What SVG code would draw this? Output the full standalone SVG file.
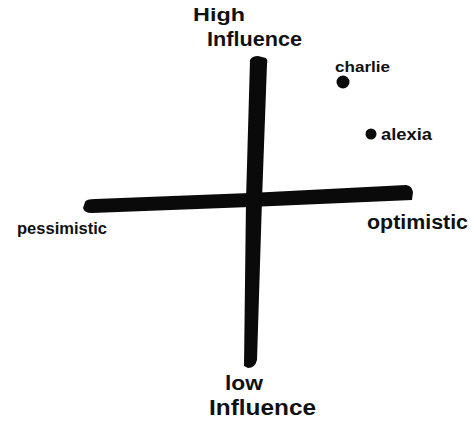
<svg xmlns="http://www.w3.org/2000/svg" width="475" height="421" viewBox="0 0 475 421">
<style>
.t{font-family:"Liberation Sans",Arial,sans-serif;fill:#111;font-weight:bold}
.ax{fill:#0a0a0a}
</style>
<rect width="475" height="421" fill="#fff"/>
<g id="connectors">
<path class="ax" d="M250,60 Q252,56 258,56 L266,58 Q268,60 267,64 L262,200 L257,360 Q255,368 248,368 L244,366 L246,200 Z"/>
<path class="ax" d="M85,202 Q86,199 95,199 L250,193 L406,185 Q412,186 413,192 L412,200 L250,207 L92,213 Q84,213 83,208 Z"/>
</g>
<g id="high-influence">
<text class="t" x="193" y="21" font-size="19" textLength="52" lengthAdjust="spacingAndGlyphs">High</text>
<text class="t" x="207" y="46" font-size="21" textLength="95" lengthAdjust="spacingAndGlyphs">Influence</text>
</g>
<g id="low-influence">
<text class="t" x="225" y="390" font-size="20" textLength="38" lengthAdjust="spacingAndGlyphs">low</text>
<text class="t" x="209" y="415" font-size="22" textLength="107" lengthAdjust="spacingAndGlyphs">Influence</text>
</g>
<g id="pessimistic">
<text class="t" x="17" y="234" font-size="17" textLength="90" lengthAdjust="spacingAndGlyphs">pessimistic</text>
</g>
<g id="optimistic">
<text class="t" x="367" y="229" font-size="20" textLength="101" lengthAdjust="spacingAndGlyphs">optimistic</text>
</g>
<g id="charlie">
<circle cx="343" cy="82" r="6.5" fill="#0a0a0a"/>
<text class="t" x="335" y="72" font-size="15" textLength="55" lengthAdjust="spacingAndGlyphs">charlie</text>
</g>
<g id="alexia">
<circle cx="371" cy="134" r="5.5" fill="#0a0a0a"/>
<text class="t" x="381" y="140" font-size="16" textLength="51" lengthAdjust="spacingAndGlyphs">alexia</text>
</g>
</svg>
